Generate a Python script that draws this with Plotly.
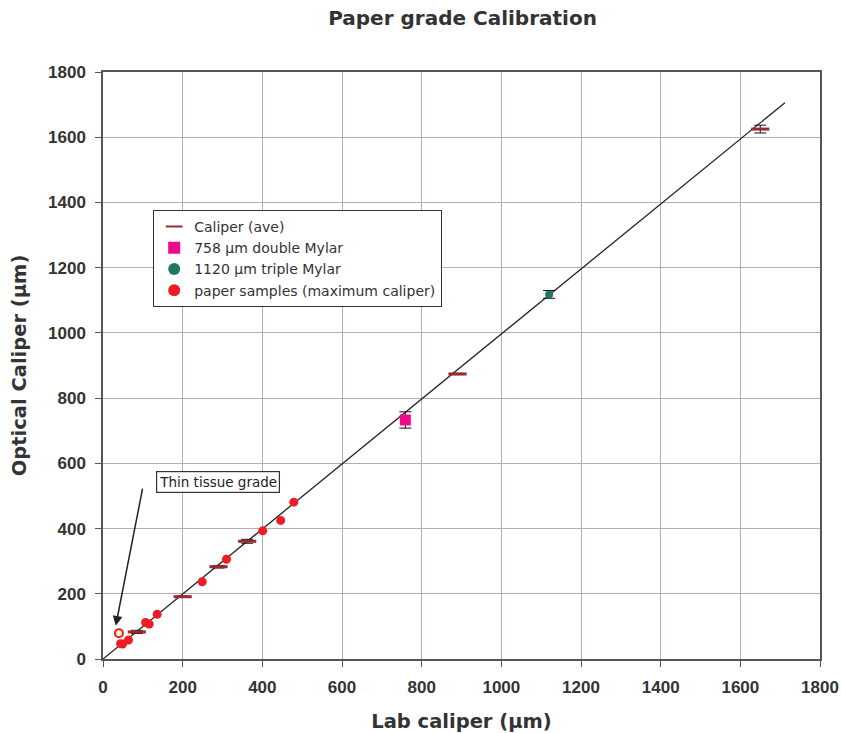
import plotly.graph_objects as go

# Fit line
fit_x = [0, 1712]
fit_y = [0, 1706]

# Caliper (ave)
cal_x = [85, 200, 290, 362, 890, 1650]
cal_y = [83, 191, 283, 361, 874, 1625]
cal_err = [5, 2, 4, 6, 2, 12]

# 758 um double Mylar
m2_x = [759]
m2_y = [733]
m2_err = [25]

# 1120 um triple Mylar
m3_x = [1120]
m3_y = [1118]
m3_err = [12]

# paper samples (maximum caliper)
ps_x = [44, 49, 64, 107, 116, 136, 249, 310, 401, 446, 479]
ps_y = [47, 46, 58, 112, 107, 137, 237, 306, 393, 425, 481]

# thin tissue grade point
tt_x = [40]
tt_y = [79]

xticks = [0, 200, 400, 600, 800, 1000, 1200, 1400, 1600, 1800]
yticks = [0, 200, 400, 600, 800, 1000, 1200, 1400, 1600, 1800]

LIB = "Liberation Sans, Arial, sans-serif"
DJV = "DejaVu Sans, Verdana, sans-serif"

fig = go.Figure()
fig.add_trace(go.Scatter(x=fit_x, y=fit_y, mode="lines",
                         line=dict(color="#222222", width=1.3),
                         showlegend=False, hoverinfo="skip"))
fig.add_trace(go.Scatter(x=cal_x, y=cal_y, mode="markers", name="Caliper (ave)",
                         legendgroup="a",
                         marker=dict(symbol="line-ew", size=13,
                                     line=dict(color="#992a30", width=3)),
                         error_y=dict(type="data", array=cal_err, color="#111111",
                                      thickness=1, width=6)))
fig.add_trace(go.Scatter(x=m2_x, y=m2_y, mode="markers", name="758 µm double Mylar",
                         legendgroup="b",
                         marker=dict(symbol="square", size=11, color="#ee0a8c"),
                         error_y=dict(type="data", array=m2_err, color="#111111",
                                      thickness=1, width=6)))
fig.add_trace(go.Scatter(x=m3_x, y=m3_y, mode="markers", name="1120 µm triple Mylar",
                         legendgroup="c",
                         marker=dict(symbol="circle", size=8, color="#1c7a62"),
                         error_y=dict(type="data", array=m3_err, color="#111111",
                                      thickness=1, width=6)))
fig.add_trace(go.Scatter(x=ps_x, y=ps_y, mode="markers",
                         name="paper samples (maximum caliper)", legendgroup="d",
                         marker=dict(symbol="circle", size=9, color="#ee1c24")))
fig.add_trace(go.Scatter(x=tt_x, y=tt_y, mode="markers", showlegend=False,
                         marker=dict(symbol="circle", size=8, color="#fff6c8",
                                     line=dict(color="#ee1c24", width=2))))

fig.add_annotation(x=288, y=543, xref="x", yref="y", text="Thin tissue grade",
                   showarrow=False, bordercolor="#333333", borderwidth=1.2,
                   borderpad=2, bgcolor="white",
                   font=dict(family=DJV, size=13.5, color="#222222"))
fig.add_annotation(x=32, y=102, ax=100, ay=527, xref="x", yref="y",
                   axref="x", ayref="y", text="", showarrow=True,
                   arrowhead=2, arrowsize=1.3, arrowwidth=1.5, arrowcolor="#222222")

axis_common = dict(showgrid=True, gridcolor="#b8acac", gridwidth=1,
                   showline=True, linecolor="#555555", linewidth=1.5, mirror=True,
                   ticks="outside", ticklen=6, tickcolor="#555555",
                   tickfont=dict(family=LIB, size=17, color="#333333", weight="bold"),
                   zeroline=False, automargin=False)

fig.update_layout(
    width=841, height=733,
    margin=dict(l=103, r=21, t=72, b=74),
    paper_bgcolor="white", plot_bgcolor="white",
    title=dict(text="<b>Paper grade Calibration</b>", x=0.55, xanchor="center",
               y=0.975, yanchor="middle",
               font=dict(family=DJV, size=20, color="#333333")),
    xaxis=dict(range=[0, 1800], tickvals=xticks, ticklabelstandoff=6,
               title=dict(text="<b>Lab caliper (µm)</b>", standoff=18,
                          font=dict(family=DJV, size=19.5, color="#333333")),
               **axis_common),
    yaxis=dict(range=[0, 1800], tickvals=yticks, ticklabelstandoff=6,
               title=dict(text="<b>Optical Caliper (µm)</b>", standoff=16,
                          font=dict(family=DJV, size=19.5, color="#333333")),
               **axis_common),
    legend=dict(x=0.07, y=0.765, xanchor="left", yanchor="top",
                bgcolor="white", bordercolor="#333333", borderwidth=1,
                font=dict(family=DJV, size=14, color="#333333"),
                itemsizing="constant", tracegroupgap=0, itemwidth=30,
                traceorder="grouped"),
    showlegend=True,
)

fig.write_html("out.html")
